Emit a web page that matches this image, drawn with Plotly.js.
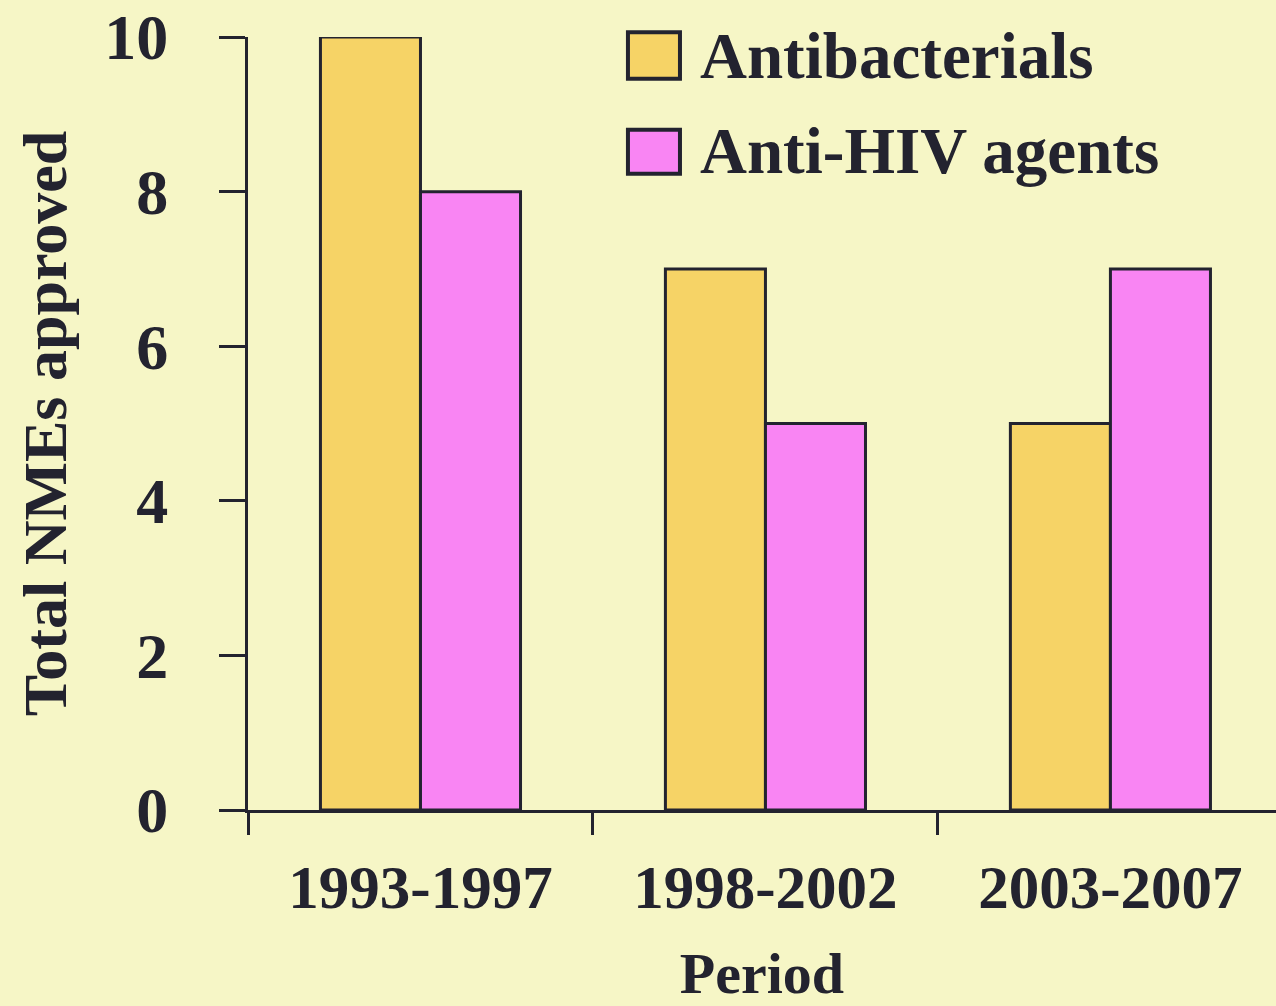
<!DOCTYPE html>
<html>
<head>
<meta charset="utf-8">
<script src="https://cdn.plot.ly/plotly-3.0.1.min.js"></script>
<style>
  html, body { margin: 0; padding: 0; background: #F6F6C6; }
  #chart { width: 1276px; height: 1006px; }
</style>
</head>
<body>
<div id="chart"></div>
<script>
// ---- data ----
const periods = ["1993-1997", "1998-2002", "2003-2007"];
const seriesNames = ["Antibacterials", "Anti-HIV agents"];
const antibacterials = [10, 7, 5];
const antiHIV = [8, 5, 7];
const yTickValues = [0, 2, 4, 6, 8, 10];
const xAxisTitle = "Period";
const yAxisTitle = "Total NMEs approved";

// ---- styling ----
const colors = ["#F6D366", "#F985F3"];
const ink = "#23232F";
const bg = "#F6F6C6";
const serif = "Liberation Serif, Times New Roman, serif";

const traces = [
  { type: "bar", name: seriesNames[0], x: periods, y: antibacterials,
    marker: { color: colors[0], line: { color: ink, width: 3 } }, showlegend: false },
  { type: "bar", name: seriesNames[1], x: periods, y: antiHIV,
    marker: { color: colors[1], line: { color: ink, width: 3 } }, showlegend: false }
];

// legend drawn as large boxes + labels (paper coordinates)
const legendRows = [{ y0: 0.946, y1: 1.006, ty: 0.976 }, { y0: 0.823, y1: 0.880, ty: 0.852 }];
const shapes = [];
const annotations = [];
seriesNames.forEach((name, i) => {
  const r = legendRows[i];
  shapes.push({ type: "rect", xref: "paper", yref: "paper", x0: 0.3696, x1: 0.4202, y0: r.y0, y1: r.y1,
    fillcolor: colors[i], line: { color: ink, width: 4 } });
  annotations.push({ xref: "paper", yref: "paper", x: 0.438, y: r.ty, xanchor: "left", yanchor: "middle",
    text: name, showarrow: false, font: { family: serif, size: 65, weight: "bold", color: ink } });
});

const layout = {
  width: 1276, height: 1006,
  paper_bgcolor: bg, plot_bgcolor: bg,
  margin: { l: 248, r: 0, t: 37, b: 196 },
  barmode: "group", bargap: 0.42, bargroupgap: 0,
  font: { family: serif, color: ink },
  xaxis: {
    type: "category", range: [-0.5, 2.48],
    showline: true, linecolor: ink, linewidth: 3,
    ticks: "outside", tickson: "boundaries", ticklen: 22, tickwidth: 3, tickcolor: ink,
    tickfont: { family: serif, size: 61, weight: "bold", color: ink },
    ticklabelstandoff: 22,
    showgrid: false, zeroline: false,
    title: { text: xAxisTitle, font: { family: serif, size: 58, weight: "bold", color: ink }, standoff: 42 }
  },
  yaxis: {
    range: [0, 10.001], tickvals: yTickValues,
    showline: true, linecolor: ink, linewidth: 3,
    ticks: "outside", ticklen: 26, tickwidth: 3, tickcolor: ink,
    tickfont: { family: serif, size: 64, weight: "bold", color: ink },
    ticklabelstandoff: 38, ticklabeloverflow: "allow",
    showgrid: false, zeroline: false,
    title: { text: yAxisTitle, font: { family: serif, size: 62, weight: "bold", color: ink }, standoff: 18 }
  },
  shapes: shapes,
  annotations: annotations
};

Plotly.newPlot("chart", traces, layout, { displayModeBar: false, staticPlot: true });
</script>
</body>
</html>
